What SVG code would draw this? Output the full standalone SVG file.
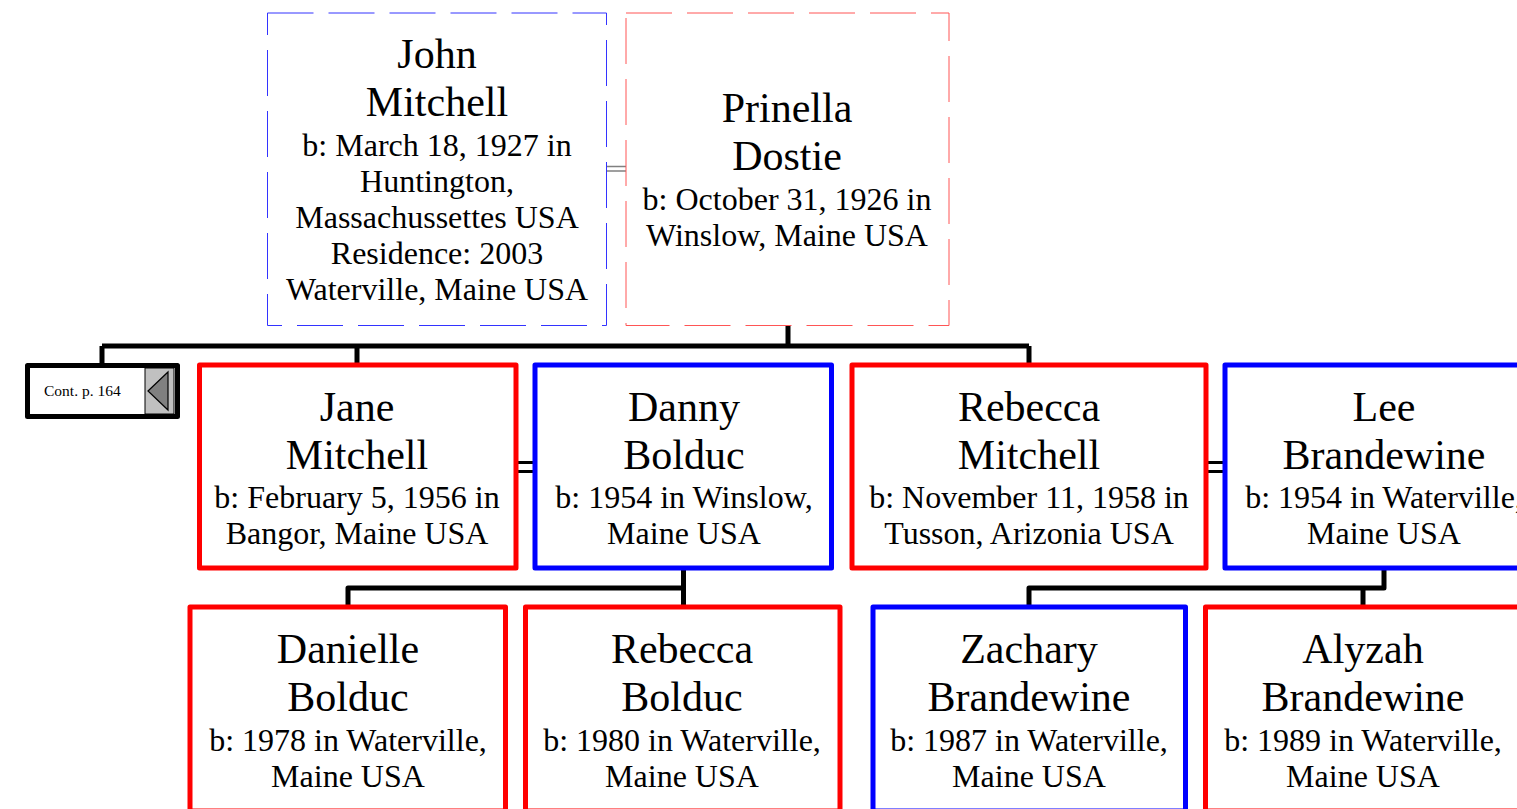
<svg xmlns="http://www.w3.org/2000/svg" width="1517" height="809" viewBox="0 0 1517 809">
<style>
text{font-family:"Liberation Serif","Times New Roman",serif;fill:#000;text-anchor:middle}
.nm{font-size:42px}
.dt{font-size:32px}
.m{fill:#fff;stroke:#0000ff;stroke-width:5;stroke-linejoin:round}
.f{fill:#fff;stroke:#ff0000;stroke-width:5;stroke-linejoin:round}
.dm{fill:#fff;stroke:#3333ff;stroke-width:1;stroke-dasharray:46 15}
.df{fill:#fff;stroke:#ff5555;stroke-width:1;stroke-dasharray:46 15}
.c{fill:none;stroke:#000;stroke-width:5;stroke-linejoin:round;stroke-linecap:butt}
.cp{fill:none;stroke:#000;stroke-width:3}
</style>
<rect width="1517" height="809" fill="#fff"/>
<g id="connectors">
<path class="c" d="M788,325 V346 M102,346 H1029 M102,346 V364 M357,346 V366 M1029,346 V366"/>
<path class="c" d="M683.5,568 V607 M683.5,588 H348 V607"/>
<path class="c" d="M1384,568 V588 H1029 V607 M1363,588 V607"/>
<path d="M607,166.5 H626 M607,171 H626" fill="none" stroke="#808080" stroke-width="1.5"/>
<path class="cp" d="M516,462.5 H535 M516,471.5 H535 M1206,462.5 H1225 M1206,471.5 H1225"/>
</g>
<g id="john">
<rect class="dm" x="267.5" y="13" width="339" height="312.5"/>
<text class="nm" x="437" y="68">John</text>
<text class="nm" x="437" y="116">Mitchell</text>
<text class="dt" x="437" y="156">b: March 18, 1927 in</text>
<text class="dt" x="437" y="192">Huntington,</text>
<text class="dt" x="437" y="228">Massachussettes USA</text>
<text class="dt" x="437" y="264">Residence: 2003</text>
<text class="dt" x="437" y="300">Waterville, Maine USA</text>
</g>
<g id="prinella">
<rect class="df" x="626" y="13" width="323" height="312.5"/>
<text class="nm" x="787" y="122">Prinella</text>
<text class="nm" x="787" y="170">Dostie</text>
<text class="dt" x="787" y="210">b: October 31, 1926 in</text>
<text class="dt" x="787" y="246">Winslow, Maine USA</text>
</g>
<g id="cont">
<rect x="27.5" y="365.5" width="150" height="51" fill="#fff" stroke="#000" stroke-width="5" stroke-linejoin="round"/>
<text x="44" y="396" style="font-size:15.5px;text-anchor:start">Cont. p. 164</text>
<rect x="145" y="368" width="29" height="46" fill="#c0c0c0" stroke="#000" stroke-width="1"/>
<polygon points="148,391 168,372 168,410" fill="#808080" stroke="#000" stroke-width="1.2"/>
</g>
<g id="jane">
<rect class="f" x="199.5" y="365" width="316.5" height="203"/>
<text class="nm" x="357" y="421">Jane</text>
<text class="nm" x="357" y="469">Mitchell</text>
<text class="dt" x="357" y="508">b: February 5, 1956 in</text>
<text class="dt" x="357" y="544">Bangor, Maine USA</text>
</g>
<g id="danny">
<rect class="m" x="535" y="365" width="296.5" height="203"/>
<text class="nm" x="684" y="421">Danny</text>
<text class="nm" x="684" y="469">Bolduc</text>
<text class="dt" x="684" y="508">b: 1954 in Winslow,</text>
<text class="dt" x="684" y="544">Maine USA</text>
</g>
<g id="rebecca">
<rect class="f" x="852" y="365" width="354" height="203"/>
<text class="nm" x="1029" y="421">Rebecca</text>
<text class="nm" x="1029" y="469">Mitchell</text>
<text class="dt" x="1029" y="508">b: November 11, 1958 in</text>
<text class="dt" x="1029" y="544">Tusson, Arizonia USA</text>
</g>
<g id="lee">
<rect class="m" x="1225" y="365" width="318" height="203"/>
<text class="nm" x="1384" y="421">Lee</text>
<text class="nm" x="1384" y="469">Brandewine</text>
<text class="dt" x="1384" y="508">b: 1954 in Waterville,</text>
<text class="dt" x="1384" y="544">Maine USA</text>
</g>
<g id="danielle">
<rect class="f" x="190" y="607" width="315.5" height="204"/>
<text class="nm" x="348" y="663">Danielle</text>
<text class="nm" x="348" y="711">Bolduc</text>
<text class="dt" x="348" y="751">b: 1978 in Waterville,</text>
<text class="dt" x="348" y="787">Maine USA</text>
</g>
<g id="rebecca-bolduc">
<rect class="f" x="525.5" y="607" width="314.5" height="204"/>
<text class="nm" x="682" y="663">Rebecca</text>
<text class="nm" x="682" y="711">Bolduc</text>
<text class="dt" x="682" y="751">b: 1980 in Waterville,</text>
<text class="dt" x="682" y="787">Maine USA</text>
</g>
<g id="zachary">
<rect class="m" x="873" y="607" width="312.5" height="204"/>
<text class="nm" x="1029" y="663">Zachary</text>
<text class="nm" x="1029" y="711">Brandewine</text>
<text class="dt" x="1029" y="751">b: 1987 in Waterville,</text>
<text class="dt" x="1029" y="787">Maine USA</text>
</g>
<g id="alyzah">
<rect class="f" x="1205.5" y="607" width="315.5" height="204"/>
<text class="nm" x="1363" y="663">Alyzah</text>
<text class="nm" x="1363" y="711">Brandewine</text>
<text class="dt" x="1363" y="751">b: 1989 in Waterville,</text>
<text class="dt" x="1363" y="787">Maine USA</text>
</g>
</svg>
